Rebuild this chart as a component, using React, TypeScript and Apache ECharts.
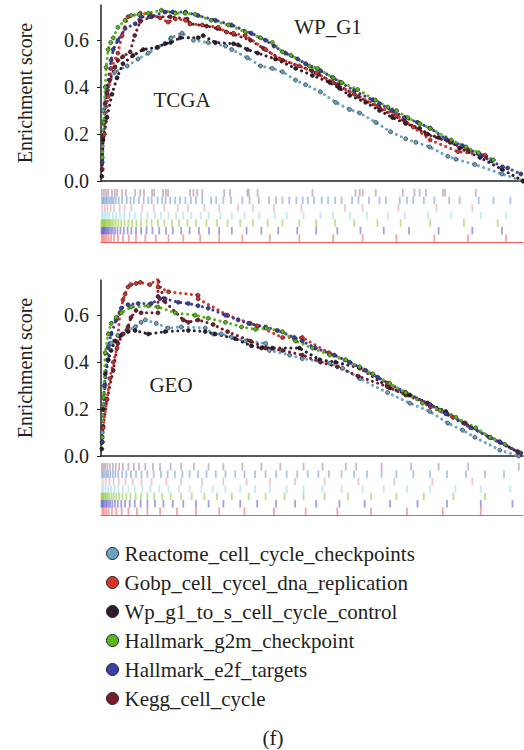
import React, { useEffect, useRef } from "react";
import * as echarts from "echarts";

const FONT = "Liberation Serif";
const TXT = "#231f20";

const seriesNames = [
  "Reactome_cell_cycle_checkpoints",
  "Gobp_cell_cycel_dna_replication",
  "Wp_g1_to_s_cell_cycle_control",
  "Hallmark_g2m_checkpoint",
  "Hallmark_e2f_targets",
  "Kegg_cell_cycle",
];
const seriesColors = ["#6aa3c4", "#d9322a", "#2d1c2c", "#56b81a", "#3b3fa6", "#7b1c2a"];

const yTicks = [0, 0.2, 0.4, 0.6];

// ---------- TCGA panel (x = % of ranked gene list, y = enrichment score)
const tcgaReactome = [[0.5,0.3],[1.4,0.4],[3.3,0.465],[6.2,0.49],[8.8,0.52],[11.2,0.545],[13.5,0.57],[16.6,0.61],[19.2,0.63],[21.9,0.6],[25.4,0.59],[29.5,0.575],[31,0.56],[34.7,0.525],[37.8,0.49],[40.6,0.48],[43,0.465],[46.1,0.43],[48.5,0.41],[52,0.38],[55.6,0.335],[58.9,0.305],[61.3,0.29],[65.1,0.25],[68.6,0.21],[72.2,0.18],[74.6,0.165],[77.9,0.145],[82.2,0.105],[84.1,0.093],[88.6,0.07],[95,0.03],[100,0]];
const tcgaGobp = [[0.8,0.2],[1.7,0.36],[2.4,0.48],[4,0.545],[5,0.62],[6.4,0.7],[9.3,0.715],[11.6,0.71],[14,0.695],[15.9,0.677],[17.6,0.69],[20,0.685],[21.1,0.67],[24,0.665],[27.8,0.655],[29.7,0.635],[31.4,0.63],[34.2,0.62],[39,0.56],[42.3,0.52],[47,0.49],[51,0.46],[55,0.42],[60,0.37],[65.6,0.32],[70,0.28],[74,0.23],[78,0.175],[84.6,0.125],[91,0.11]];
const tcgaWp = [[0.2,0.02],[0.5,0.175],[1.4,0.27],[2.6,0.37],[3.8,0.44],[5.2,0.5],[7.6,0.535],[10,0.56],[13.3,0.57],[15.2,0.585],[16.5,0.59],[18.8,0.61],[23,0.61],[24.2,0.62],[27.1,0.59],[31.4,0.585],[32.5,0.58],[34.7,0.56],[37.1,0.545],[41.3,0.52],[46.1,0.48],[50.1,0.45],[54.2,0.42],[56.5,0.395],[58.9,0.365],[62.7,0.335],[66,0.3],[69.1,0.27],[72.2,0.245],[75.5,0.225],[77.4,0.2],[80,0.185],[82.7,0.17],[85,0.14],[89.8,0.1],[95,0.05],[100,0]];
const tcgaG2m = [[0.3,0.1],[0.6,0.25],[1,0.4],[1.2,0.485],[1.7,0.56],[2.3,0.59],[2.9,0.61],[4,0.655],[5.7,0.685],[7.1,0.705],[9,0.71],[11.2,0.715],[14.3,0.728],[17.6,0.715],[20,0.715],[22.3,0.71],[26.1,0.685],[30.2,0.665],[34.2,0.635],[37.8,0.61],[40.6,0.59],[43,0.55],[45,0.536],[49.4,0.49],[51.3,0.48],[55,0.44],[57,0.42],[60.8,0.39],[65,0.345],[68,0.315],[70,0.3],[72.7,0.27],[75.5,0.245],[78,0.225],[83,0.175],[86.5,0.145],[89.5,0.12],[93,0.09]];
const tcgaE2f = [[0.3,0.08],[0.8,0.25],[1.4,0.4],[2.4,0.515],[2.9,0.56],[4,0.6],[5.7,0.65],[8.1,0.67],[9.5,0.7],[11.6,0.7],[15.2,0.72],[17,0.72],[20,0.72],[23,0.705],[27.1,0.685],[30.9,0.665],[35.6,0.63],[39,0.6],[41,0.575],[43.7,0.545],[46.6,0.52],[48.5,0.5],[52,0.47],[55,0.44],[56.8,0.42],[60,0.385],[64.4,0.345],[66,0.33],[69,0.3],[72,0.27],[75,0.25],[78,0.225],[81.7,0.18],[85.7,0.15],[89.8,0.11],[92.5,0.085],[95.2,0.06],[96.4,0.055],[99.5,0.03]];
const tcgaKegg = [[0.3,0.05],[0.5,0.19],[1,0.33],[1.4,0.375],[2.1,0.43],[3.3,0.485],[4,0.515],[5.2,0.53],[6.9,0.55],[8,0.62],[9.3,0.68],[12,0.7],[16.4,0.7],[20.4,0.69],[21.1,0.67],[25,0.66],[27.6,0.65],[31.4,0.625],[35.4,0.6],[38.5,0.565],[43,0.515],[50,0.47],[51.5,0.455],[56,0.41],[61,0.36],[66,0.31],[72,0.255],[77,0.2],[82.7,0.165],[87,0.13],[91.2,0.105]];

// ---------- GEO panel
const geoReactome = [[0.3,0.1],[1,0.3],[1.7,0.41],[2.4,0.48],[4,0.515],[6.4,0.535],[8.1,0.55],[9.5,0.57],[10.5,0.58],[13.1,0.565],[15.9,0.545],[19,0.55],[24.7,0.545],[26.6,0.52],[28.5,0.52],[30.9,0.507],[34.2,0.49],[39,0.48],[39.9,0.45],[44.7,0.43],[47.7,0.415],[54.2,0.395],[57.2,0.375],[61.3,0.33],[67.9,0.27],[73.2,0.225],[77.9,0.19],[82.2,0.14],[85.7,0.11],[88.6,0.08],[94.5,0.025],[99,0]];
const geoGobp = [[0.5,0.12],[1.4,0.24],[2.1,0.33],[2.9,0.4],[3.8,0.46],[4.5,0.61],[5.2,0.665],[5.7,0.69],[6.4,0.72],[7,0.73],[8.3,0.735],[9.3,0.74],[11.6,0.73],[13.5,0.757],[13.5,0.72],[16,0.7],[23,0.685],[23,0.67],[30,0.6],[35.4,0.565],[37,0.555],[43,0.505],[47.7,0.505],[54,0.44],[61.3,0.375],[67.9,0.31],[72.2,0.27],[78,0.21],[83.4,0.165]];
const geoWp = [[0.2,0.03],[0.5,0.2],[1,0.35],[1.7,0.41],[2.4,0.45],[3.3,0.49],[4.8,0.515],[6.4,0.53],[8.1,0.535],[11.2,0.52],[15.2,0.53],[20.7,0.535],[24.7,0.53],[27,0.52],[31.8,0.5],[35.6,0.47],[38,0.46],[40.6,0.46],[47,0.46],[51.8,0.41],[55.6,0.4],[61.3,0.375],[68.4,0.29],[73.2,0.26],[77.4,0.225],[81.7,0.19],[86.2,0.14],[94.5,0.06],[98.8,0.017]];
const geoG2m = [[0.3,0.08],[0.6,0.25],[1,0.44],[1.7,0.52],[2.4,0.565],[3.6,0.59],[4.8,0.61],[7.1,0.635],[11.2,0.64],[13.5,0.635],[17.6,0.61],[22.3,0.6],[25.4,0.587],[29.5,0.57],[33.3,0.55],[36.6,0.54],[39.2,0.545],[43,0.53],[46.1,0.49],[50.1,0.46],[54.2,0.43],[58,0.41],[61.3,0.38],[64.4,0.35],[68.4,0.31],[72.2,0.27],[76.2,0.225],[80.3,0.195],[84.1,0.165],[88.8,0.12],[92.2,0.08],[95.7,0.05]];
const geoE2f = [[0.3,0.06],[0.8,0.3],[1.7,0.465],[2.4,0.52],[3.6,0.58],[4.8,0.63],[6.4,0.645],[8.8,0.65],[11.9,0.65],[14,0.67],[15.2,0.67],[18.3,0.655],[20.7,0.65],[23,0.64],[25.4,0.63],[29.5,0.6],[32.5,0.58],[35,0.565],[39,0.55],[41.8,0.535],[45.8,0.505],[47.7,0.49],[50.8,0.46],[55.3,0.43],[58.9,0.4],[62.7,0.365],[65.6,0.335],[72.2,0.27],[77.9,0.22],[81.7,0.18],[87.6,0.12],[94.5,0.06],[99.5,0.013]];
const geoKegg = [[0.3,0.06],[0.5,0.125],[1.4,0.24],[2.9,0.365],[4,0.48],[5.2,0.52],[6.4,0.55],[7.1,0.59],[8.3,0.62],[9.5,0.61],[13.5,0.61],[13.5,0.68],[13.5,0.757],[15,0.66],[19.5,0.58],[20.7,0.57],[23,0.58],[26.6,0.56],[30,0.53],[35.4,0.49],[39,0.46],[43,0.45],[47.7,0.43],[52,0.4],[56,0.38],[61,0.34],[67.9,0.295],[72.2,0.26],[77.4,0.225],[82,0.18],[86.2,0.14],[92,0.08],[98.8,0.017]];

// ---------- gene-hit barcodes (positions along ranked list, %)
const barRowColors = ["#9c6f8c", "#5b8ccc", "#dc8ea2", "#86d6ec", "#80c41a", "#4642c2", "#f24a4a"];
const barRowNames = ["r0", "r1", "r2", "r3", "r4", "r5", "r6"];

const tcgaHits = [
  [0.2,0.7,1.2,1.7,2.6,3.3,3.8,5,5.9,8.1,9.3,10.2,12.1,12.6,14.7,15.4,15.9,21.1,21.9,22.8,24,29.2,30.6,34.7,35,37.1,50.1,60.3,61.3,62,65.1,71.5,74.3,75.5,77,81,81.5,88.8],
  [0.2,0.5,0.8,1.1,1.4,1.8,2.2,2.6,3,3.5,4.2,5,6.1,7,7.8,9,10.1,11.2,12,13.4,14.5,15.3,16.4,17.6,18.7,20,21.3,22.5,24,26.1,27.3,29,30.8,33.5,35.2,37.4,39.8,41.5,43,44.6,46.3,47.8,49,50.5,52.3,53.8,55.5,57,59.5,61,63.5,66,67.5,70.8,72.5,74,76.5,79,82.5,85,89.5,93,97],
  [0.3,0.9,1.5,2.3,3.1,4.4,5.6,7.2,9.8,12.5,15,18.2,20.6,24.5,28,32.5,36,41,47.5,57.8,62,70.5,79.5,88],
  [0.2,0.6,1,1.5,2,2.8,3.6,4.5,5.5,6.8,8,9.5,11,12.8,14.2,16,17.8,19.5,21.4,23.6,25.5,28.3,31,34,37.5,41.2,44,48,52,55,59,63,68,72,77.5,83,90,96],
  [0.1,0.3,0.5,0.7,0.9,1.1,1.3,1.6,1.9,2.2,2.6,3,3.5,4.1,4.8,5.6,6.5,7.4,8.4,9.5,10.8,12,13.5,15,16.8,18.5,20.5,22.5,25,27.5,30,33,36,39.5,43,47,51,55.5,60,65.5,71,78,86,94],
  [0.1,0.3,0.5,0.7,0.9,1.1,1.4,1.7,2,2.4,2.8,3.3,3.9,4.6,5.4,6.3,7.2,8.3,9.5,10.8,12.2,13.8,15.4,17,19,21,23.2,25.6,28,31,34.5,38,42,46.5,51,56,61.5,67,73,80,88,95],
  [0.2,0.5,0.9,1.3,1.8,2.4,3.1,4,5.2,6.6,8.3,10.5,13,16,19.5,23.5,28,33.5,40,47,55,62,70,79,87,96],
];
const geoHits = [
  [0.2,0.6,1,1.5,2.1,2.8,3.5,4.3,5.2,6.5,7.8,9,10.5,12.3,14,16.5,19,22,25.5,29,33.5,38,42.5,48,52.5,58,60.5,66.5,73.5,80,87,99],
  [0.2,0.5,0.9,1.3,1.7,2.2,2.8,3.4,4.1,5,6,7.1,8.3,9.6,11,12.5,14.2,15.8,17.5,19.3,21,23,25,27.2,29.5,31.8,34,36.5,39,41.5,44,46.5,49,51.5,54,57,60,63,66.5,70,74,78,82,86.5,91,95.5],
  [0.4,1.1,2,3,4.2,5.8,7.5,9.6,12,15.5,19,24,29,34.5,40,46,53,61,69.5,78.5,88],
  [0.2,0.6,1.1,1.7,2.4,3.2,4.1,5.2,6.5,8,9.8,11.7,13.8,16,18.5,21,23.8,26.5,29.5,33,36.5,40,44,48,52.5,57,62,67,72.5,78,84,90,97],
  [0.1,0.3,0.5,0.7,1,1.3,1.6,2,2.5,3,3.6,4.3,5.1,6,7,8.2,9.5,11,12.6,14.5,16.5,19,21.5,24.5,27.5,31,35,39,43.5,48,53,58.5,64,70,76.5,83.5,91],
  [0.1,0.3,0.5,0.8,1.1,1.4,1.8,2.2,2.7,3.3,4,4.8,5.7,6.8,8,9.4,11,12.8,14.8,17,19.5,22.5,25.5,29,33,37,41.5,46,51,56.5,62.5,68.5,75,82,90,97.5],
  [0.3,0.7,1.2,1.8,2.6,3.6,4.9,6.5,8.5,11,14,18,22.5,28,34,41,48.5,56,64,72.5,81,90],
];

const tcgaSeries = [tcgaReactome, tcgaGobp, tcgaWp, tcgaG2m, tcgaE2f, tcgaKegg];
const geoSeries = [geoReactome, geoGobp, geoWp, geoG2m, geoE2f, geoKegg];
const drawOrder = [0, 2, 5, 1, 4, 3];

export default function App() {
  const ref = useRef<HTMLDivElement>(null);
  useEffect(() => {
    if (!ref.current) return;
    const chart = echarts.init(ref.current, null, { renderer: "svg" });

    const grids = [
      { left: 101, width: 422, top: 5, height: 176 },
      { left: 101, width: 422, top: 189, height: 53 },
      { left: 101, width: 422, top: 280, height: 176 },
      { left: 101, width: 422, top: 463, height: 52 },
    ];

    const xAxes = grids.map((_, i) => ({
      gridIndex: i,
      type: "value",
      min: 0,
      max: 100,
      axisLine: {
        show: true,
        onZero: false,
        lineStyle: i % 2 === 0 ? { color: TXT, width: 1.5 } : { color: "#f25a5a", width: 1 },
      },
      axisTick: { show: false },
      axisLabel: { show: false },
      splitLine: { show: false },
    }));

    const scoreAxis = (gi: number) => ({
      gridIndex: gi,
      type: "value",
      min: 0,
      max: 0.75,
      name: "Enrichment score",
      nameLocation: "middle",
      nameGap: 66,
      nameTextStyle: { fontFamily: FONT, fontSize: 20, color: TXT },
      axisLine: { show: true, lineStyle: { color: TXT, width: 1.5 } },
      axisTick: { show: true, length: 4, customValues: yTicks, lineStyle: { color: TXT } },
      axisLabel: {
        customValues: yTicks,
        margin: 12,
        fontFamily: FONT,
        fontSize: 20,
        color: TXT,
        formatter: (v: number) => (v > 0.7 ? "" : v.toFixed(1)),
      },
      splitLine: { show: false },
    });
    const barAxis = (gi: number) => ({
      gridIndex: gi,
      type: "category",
      data: barRowNames,
      inverse: true,
      show: false,
    });

    const yAxes = [scoreAxis(0), barAxis(1), scoreAxis(2), barAxis(3)];

    const series: any[] = [];
    const addPanel = (data: number[][][], gi: number) => {
      drawOrder.forEach((k) => {
        series.push({
          type: "line",
          name: seriesNames[k],
          xAxisIndex: gi,
          yAxisIndex: gi,
          data: data[k],
          symbol: "circle",
          symbolSize: 4,
          showSymbol: true,
          itemStyle: { color: seriesColors[k], borderColor: "#1c1c1c", borderWidth: 0.6 },
          lineStyle: { color: seriesColors[k], width: 3, type: [0.01, 5.5], cap: "round" },
          z: 3,
        });
      });
    };
    addPanel(tcgaSeries, 0);
    addPanel(geoSeries, 2);

    const addBars = (hits: number[][], gi: number) => {
      hits.forEach((row, r) => {
        series.push({
          type: "scatter",
          xAxisIndex: gi,
          yAxisIndex: gi,
          data: row.map((x) => [x, r]),
          symbol: "rect",
          symbolSize: [1.8, 7.5],
          itemStyle: { color: barRowColors[r], opacity: 0.5 },
          silent: true,
        });
      });
    };
    addBars(tcgaHits, 1);
    addBars(geoHits, 3);

    const titleText = (text: string, x: number, y: number) => ({
      type: "text",
      x,
      y,
      style: { text, fontFamily: FONT, fontSize: 21, fill: TXT, textAlign: "center", textVerticalAlign: "middle" },
    });

    chart.setOption({
      animation: false,
      backgroundColor: "#ffffff",
      grid: grids,
      xAxis: xAxes,
      yAxis: yAxes,
      legend: {
        data: seriesNames,
        orient: "vertical",
        left: 101,
        top: 538,
        icon: "circle",
        itemWidth: 12,
        itemHeight: 12,
        itemGap: 8,
        itemStyle: { borderColor: "#222", borderWidth: 1 },
        textStyle: { fontFamily: FONT, fontSize: 21, color: TXT, lineHeight: 20, padding: [0, 0, 0, 1] },
      },
      graphic: [
        titleText("TCGA", 182, 100),
        titleText("WP_G1", 328, 27),
        titleText("GEO", 171, 385),
        titleText("(f)", 273, 738),
      ],
      series,
    });
    return () => chart.dispose();
  }, []);
  return <div ref={ref} style={{ position: "absolute", left: 0, top: 0, width: 524, height: 750 }} />;
}
